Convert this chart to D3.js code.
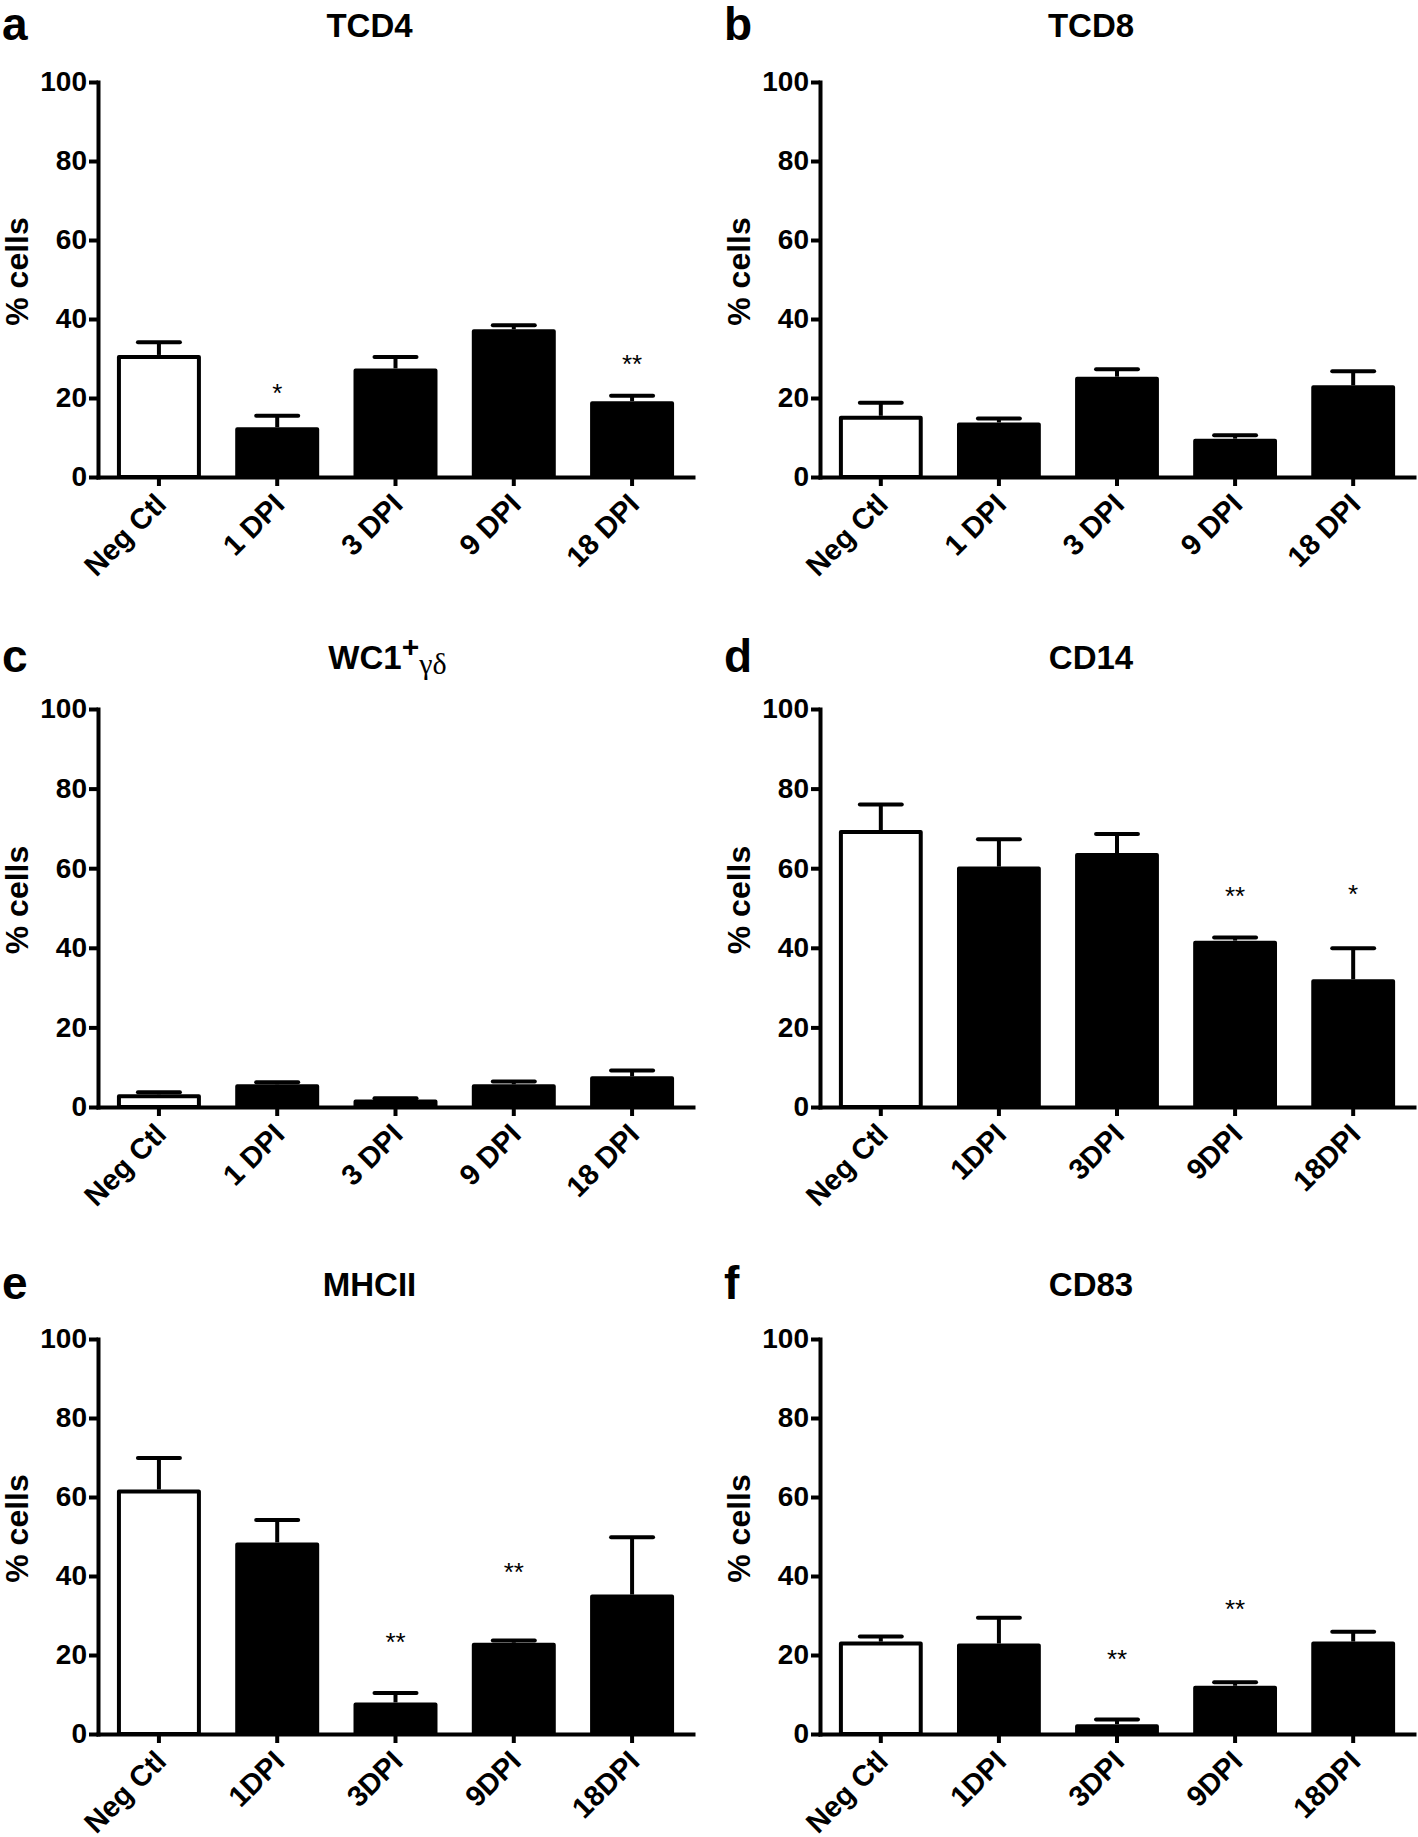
<!DOCTYPE html>
<html>
<head>
<meta charset="utf-8">
<script src="https://cdn.jsdelivr.net/npm/d3@7"></script>
<style>
  body { margin: 0; background: #fff; }
  svg { display: block; }
</style>
</head>
<body>
<div id="wrapper"></div>
<script>
const categoriesSpaced = ['Neg Ctl', '1 DPI', '3 DPI', '9 DPI', '18 DPI']
const categoriesCompact = ['Neg Ctl', '1DPI', '3DPI', '9DPI', '18DPI']
const yTicks = [0, 20, 40, 60, 80, 100]

// mean % cells and upper SEM
const tcd4Mean = [30.9, 12.6, 27.5, 37.4, 19.2]
const tcd4Err = [3.2, 2.9, 2.9, 1.0, 1.4]
const tcd4Sig = ['', '*', '', '', '**']
const tcd4SigAt = [null, 22.7, null, null, 30.2]

const tcd8Mean = [15.5, 13.8, 25.4, 9.7, 23.2]
const tcd8Err = [3.3, 1.0, 1.9, 0.9, 3.6]

const wc1Mean = [3.2, 5.7, 1.9, 5.7, 7.7]
const wc1Err = [0.5, 0.5, 0.3, 0.7, 1.5]

const cd14Mean = [69.6, 60.4, 63.8, 41.8, 32.1]
const cd14Err = [6.4, 6.9, 4.8, 0.8, 7.8]
const cd14Sig = ['', '', '', '**', '*']
const cd14SigAt = [null, null, null, 54.6, 55]

const mhcMean = [61.9, 48.5, 8.0, 23.1, 35.3]
const mhcErr = [8.0, 5.7, 2.4, 0.6, 14.5]
const mhcSig = ['', '', '**', '**', '']
const mhcSigAt = [null, null, 24.9, 42.5, null]

const cd83Mean = [23.4, 22.9, 2.5, 12.2, 23.4]
const cd83Err = [1.3, 6.5, 1.2, 0.9, 2.5]
const cd83Sig = ['', '', '**', '**', '']
const cd83SigAt = [null, null, 20.4, 33.1, null]

const panels = [
    { letter: 'a', title: 'TCD4', cats: categoriesSpaced, mean: tcd4Mean, err: tcd4Err, sig: tcd4Sig, sigAt: tcd4SigAt, row: 0, col: 0 },
    { letter: 'b', title: 'TCD8', cats: categoriesSpaced, mean: tcd8Mean, err: tcd8Err, row: 0, col: 1 },
    { letter: 'c', title: 'WC1', cats: categoriesSpaced, mean: wc1Mean, err: wc1Err, row: 1, col: 0 },
    { letter: 'd', title: 'CD14', cats: categoriesCompact, mean: cd14Mean, err: cd14Err, sig: cd14Sig, sigAt: cd14SigAt, row: 1, col: 1 },
    { letter: 'e', title: 'MHCII', cats: categoriesCompact, mean: mhcMean, err: mhcErr, sig: mhcSig, sigAt: mhcSigAt, row: 2, col: 0 },
    { letter: 'f', title: 'CD83', cats: categoriesCompact, mean: cd83Mean, err: cd83Err, sig: cd83Sig, sigAt: cd83SigAt, row: 2, col: 1 }
]

const layout = {
    width: 1418,
    height: 1837,
    rowTitle: [37, 669, 1296],
    rowTop: [82, 709, 1339],
    rowBottom: [477, 1107, 1734],
    colLeft: [98, 820],
    colRight: [693, 1414],
    letterX: [2, 724],
    stroke: 4
}

const font = '"Liberation Sans", Arial, sans-serif'

const svg = d3.select('#wrapper')
    .append('svg')
    .attr('width', layout.width)
    .attr('height', layout.height)

function drawPanel(p) {
    const x0 = layout.colLeft[p.col]
    const x1 = layout.colRight[p.col]
    const yTop = layout.rowTop[p.row]
    const yBottom = layout.rowBottom[p.row]
    const sw = layout.stroke

    const xScale = d3.scaleBand()
        .domain(p.cats)
        .range([x0, x1])
        .paddingInner(0.29)
        .paddingOuter(0.16)

    const yScale = d3.scaleLinear()
        .domain([0, 100])
        .range([yBottom, yTop])

    const g = svg.append('g')
    const rows = p.cats.map((c, i) => ({ cat: c, mean: p.mean[i], err: p.err[i], i }))

    // bars
    g.append('g').selectAll('rect')
        .data(rows)
        .join('rect')
        .attr('x', d => xScale(d.cat) + sw / 2)
        .attr('y', d => yScale(d.mean) + sw / 2)
        .attr('width', xScale.bandwidth() - sw)
        .attr('height', d => yBottom - yScale(d.mean) - sw / 2)
        .attr('fill', d => d.i === 0 ? '#fff' : '#000')
        .attr('stroke', '#000')
        .attr('stroke-width', sw)
        .attr('stroke-linejoin', 'round')

    // upper error bars
    const eb = g.append('g').selectAll('g').data(rows).join('g')
    const cx = d => xScale(d.cat) + xScale.bandwidth() / 2
    eb.append('line')
        .attr('x1', cx).attr('x2', cx)
        .attr('y1', d => yScale(d.mean))
        .attr('y2', d => yScale(d.mean + d.err))
        .attr('stroke', '#000')
        .attr('stroke-width', sw)
    eb.append('line')
        .attr('x1', d => cx(d) - xScale.bandwidth() / 4)
        .attr('x2', d => cx(d) + xScale.bandwidth() / 4)
        .attr('y1', d => yScale(d.mean + d.err))
        .attr('y2', d => yScale(d.mean + d.err))
        .attr('stroke', '#000')
        .attr('stroke-width', sw)
        .attr('stroke-linecap', 'round')

    // significance stars
    if (p.sig) {
        g.append('g').selectAll('text')
            .data(rows.filter(d => p.sig[d.i]))
            .join('text')
            .attr('x', cx)
            .attr('y', d => yScale(p.sigAt[d.i]) + 15)
            .attr('text-anchor', 'middle')
            .style('font-family', font)
            .style('font-size', '26px')
            .text(d => p.sig[d.i])
    }

    // y axis
    const yAxis = g.append('g')
        .attr('transform', `translate(${x0},0)`)
        .call(d3.axisLeft(yScale).tickValues(yTicks).tickSize(9).tickSizeOuter(0).tickPadding(2))
    yAxis.select('.domain').attr('stroke-width', sw).attr('stroke-linecap', 'square')
    yAxis.selectAll('.tick line').attr('stroke-width', sw)
    yAxis.selectAll('.tick text')
        .style('font-family', font)
        .style('font-weight', 'bold')
        .style('font-size', '28px')
        .attr('fill', '#000')

    // x axis
    const xAxis = g.append('g')
        .attr('transform', `translate(0,${yBottom})`)
        .call(d3.axisBottom(xScale).tickSize(9).tickSizeOuter(0))
    xAxis.select('.domain').attr('stroke-width', sw).attr('stroke-linecap', 'square')
    xAxis.selectAll('.tick line').attr('stroke-width', sw)
    xAxis.selectAll('.tick text')
        .attr('y', 0)
        .attr('dy', 0)
        .attr('transform', 'translate(9,29) rotate(-45)')
        .style('text-anchor', 'end')
        .style('font-family', font)
        .style('font-weight', 'bold')
        .style('font-size', '29px')
        .attr('fill', '#000')

    // y label
    svg.append('text')
        .attr('transform', `translate(${x0 - 70},${(yTop + yBottom) / 2 - 8}) rotate(-90)`)
        .attr('text-anchor', 'middle')
        .style('font-family', font)
        .style('font-weight', 'bold')
        .style('font-size', '32px')
        .text('% cells')

    // panel letter
    svg.append('text')
        .attr('x', layout.letterX[p.col])
        .attr('y', layout.rowTitle[p.row] + 3)
        .style('font-family', font)
        .style('font-weight', 'bold')
        .style('font-size', '46px')
        .text(p.letter)

    // title
    const title = svg.append('text')
        .attr('y', layout.rowTitle[p.row])
        .attr('text-anchor', 'middle')
        .style('font-family', font)
        .style('font-weight', 'bold')
        .style('font-size', '33px')
    if (p.letter === 'c') {
        title.attr('x', (x0 + x1) / 2 - 8)
        title.append('tspan').text('WC1')
        title.append('tspan').attr('dy', -12).style('font-size', '30px').text('+')
        title.append('tspan').attr('dy', 17)
            .style('font-family', '"Liberation Serif", "Times New Roman", serif')
            .style('font-weight', 'normal')
            .style('font-size', '30px')
            .text('γδ')
    } else {
        title.attr('x', (x0 + x1) / 2 - 26).text(p.title)
    }
}

panels.forEach(drawPanel)
</script>
</body>
</html>
